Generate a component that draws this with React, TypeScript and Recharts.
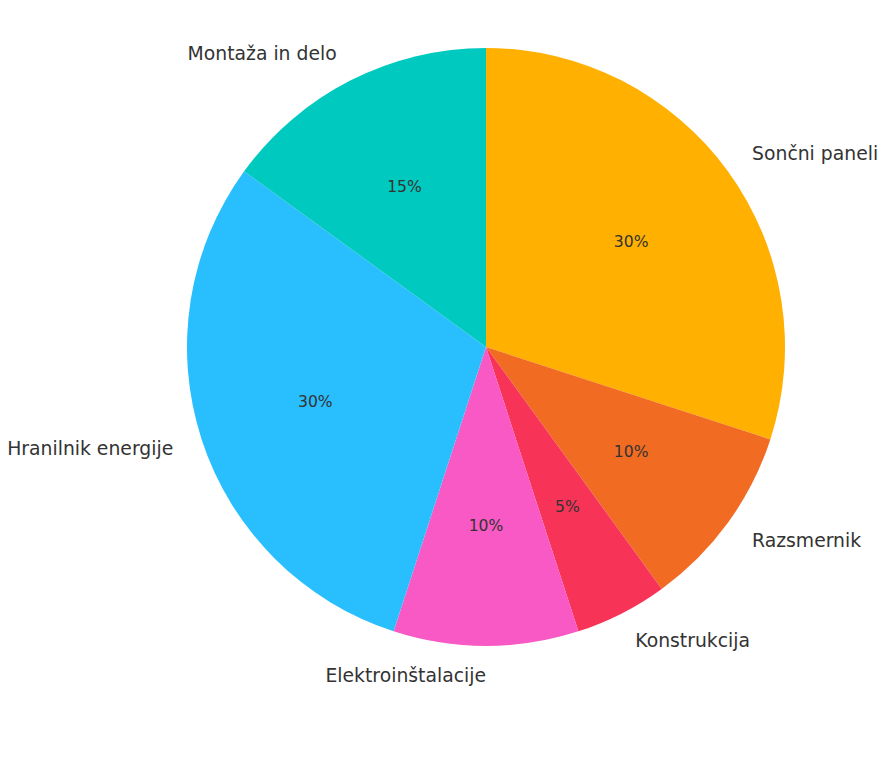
import { PieChart, Pie, Cell } from "recharts";

const categories = [
  "Sončni paneli",
  "Razsmernik",
  "Konstrukcija",
  "Elektroinštalacije",
  "Hranilnik energije",
  "Montaža in delo",
];
const shares = [30, 10, 5, 10, 30, 15];
const colors = ["#FFB000", "#F26B22", "#F73458", "#F859C4", "#29BEFE", "#00C9BF"];

const data = categories.map((name, i) => ({ name, value: shares[i] }));

const RAD = Math.PI / 180;
const FONT = "'DejaVu Sans', sans-serif";

const renderLabel = (props: any) => {
  const { cx, cy, midAngle, outerRadius, percent, name } = props;
  const c = Math.cos(midAngle * RAD);
  const s = Math.sin(midAngle * RAD);
  const rl = outerRadius * 1.1;
  const rp = outerRadius * 0.6;
  return (
    <g>
      <text
        x={cx + rl * c}
        y={cy - rl * s}
        textAnchor={c > 1e-9 ? "start" : "end"}
        dominantBaseline="central"
        fill="#333333"
        fontSize={18.8}
        fontFamily={FONT}
      >
        {name}
      </text>
      <text
        x={cx + rp * c}
        y={cy - rp * s}
        textAnchor="middle"
        dominantBaseline="central"
        fill="#333333"
        fontSize={15.6}
        fontFamily={FONT}
      >
        {`${Math.round(percent * 100)}%`}
      </text>
    </g>
  );
};

export default function App() {
  return (
    <div style={{ position: "absolute", left: 0, top: 0, width: 886, height: 760, background: "#fff" }}>
      <PieChart width={886} height={760} margin={{ top: 0, right: 0, bottom: 0, left: 0 }}>
        <Pie
          data={data}
          dataKey="value"
          nameKey="name"
          cx={486}
          cy={347}
          outerRadius={299}
          startAngle={90}
          endAngle={-270}
          stroke="none"
          label={renderLabel}
          labelLine={false}
          isAnimationActive={false}
        >
          {data.map((d, i) => (
            <Cell key={d.name} fill={colors[i]} />
          ))}
        </Pie>
      </PieChart>
    </div>
  );
}
